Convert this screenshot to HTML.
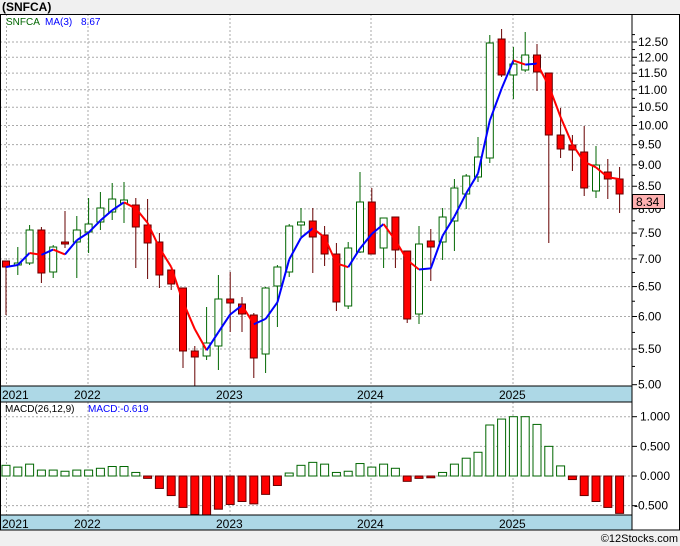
<!DOCTYPE html>
<html><head><meta charset="utf-8"><style>
html,body{margin:0;padding:0;background:#f0f0f0;}
svg{display:block;font-family:"Liberation Sans",sans-serif;}
</style></head><body>
<svg id="c" width="680" height="546" xmlns="http://www.w3.org/2000/svg">
<rect x="0" y="0" width="680" height="546" fill="#f0f0f0"/>
<text x="2" y="11" font-size="12" font-weight="bold" fill="#000">(SNFCA)</text>
<rect x="0" y="14" width="679" height="516" fill="#fff"/>
<g id="g"></g>
</svg>
<script>
var g=document.getElementById('g'),s='';
function yP(v){return 42+374*Math.log(12.5/v);}
function xi(i){return 6+11.8*i;}
// grid price
var lv=[12.5,12,11.5,11,10.5,10,9.5,9,8.5,8,7.5,7,6.5,6,5.5,5];
lv.forEach(function(v){var y=yP(v);
 if(v>5) s+='<line x1="0" x2="632" y1="'+y+'" y2="'+y+'" stroke="#aaa" stroke-dasharray="2,2"/>';
 s+='<line x1="632" x2="637" y1="'+y+'" y2="'+y+'" stroke="#000"/>';
 s+='<text x="638" y="'+(y+4)+'" font-size="12" fill="#000">'+v.toFixed(2)+'</text>';});
for(var v=5.25;v<12.8;v+=0.5){var y=yP(v);s+='<line x1="632" x2="635" y1="'+y+'" y2="'+y+'" stroke="#000"/>';}
var yrs=[[6.5,'2021'],[88,'2022'],[230,'2023'],[371,'2024'],[513,'2025']];
yrs.forEach(function(a){s+='<line x1="'+a[0]+'" x2="'+a[0]+'" y1="14" y2="386" stroke="#aaa" stroke-dasharray="2,2"/>';
 s+='<line x1="'+a[0]+'" x2="'+a[0]+'" y1="402" y2="515" stroke="#aaa" stroke-dasharray="2,2"/>';});
// macd grid
[[1,'1.000'],[0.5,'0.500'],[0,'0.000'],[-0.5,'-0.500']].forEach(function(a){var y=476-59.3*a[0];
 s+='<line x1="0" x2="632" y1="'+y+'" y2="'+y+'" stroke="#aaa" stroke-dasharray="2,2"/>';
 s+='<line x1="632" x2="637" y1="'+y+'" y2="'+y+'" stroke="#000"/>';
 s+='<text x="'+(a[0]<0?634:640)+'" y="'+(y+4)+'" font-size="12" fill="#000">'+a[1]+'</text>';});
// candles: color, bodyTop, bodyBot, wickTop, wickBot
var C=[['r',261,267,261,315],['g',263,265,247,275],['g',230,263,225,265],['r',230,273,227,283],['g',247,272,245,278],['r',242,244,211,248],['g',230,242,216,278],['g',224,232,198,253],['g',208,222,192,230],['g',199,212,183,220],['g',200,203,182,223],['r',205,227,198,268],['r',225,243,199,279],['r',242,275,233,288],['r',270,284,270,290],['r',288,351,288,368],['r',351,357,346,387],['g',343,356,307,360],['g',299,346,275,370],['r',299,303,272,332],['r',304,314,297,332],['r',315,358,313,378],['g',288,354,287,373],['g',267,286,265,327],['g',226,272,224,277],['g',222,225,208,237],['r',221,237,208,273],['r',235,254,226,266],['r',254,302,243,311],['g',248,306,242,309],['g',202,252,172,253],['r',202,254,188,254],['g',218,248,218,268],['r',217,250,217,268],['r',251,319,251,323],['g',244,314,226,324],['r',241,247,229,281],['g',217,242,208,260],['g',188,221,179,251],['g',176,194,174,209],['g',157,177,137,182],['g',43,158,35,163],['r',39,75,29,77],['g',64,75,47,99],['g',55,70,32,72],['r',55,72,44,91],['r',73,135,73,243],['r',135,149,108,158],['r',145,150,135,171],['r',152,188,126,196],['g',165,191,146,198],['r',172,179,159,199],['r',179,194,167,213]];
function pv(y){return 12.5*Math.exp(-(y-42)/374);}
var cl=C.map(function(c){return pv(c[0]=='g'?c[1]:c[2]);});
C.forEach(function(c,i){var x=xi(i);var wc=c[0]=='g'?'#060':'#600';
 s+='<line x1="'+x+'" x2="'+x+'" y1="'+c[3]+'" y2="'+c[4]+'" stroke="'+wc+'" stroke-width="1"/>';
 var h=Math.max(c[2]-c[1],2);
 if(c[0]=='g') s+='<rect x="'+(x-3.5)+'" y="'+c[1]+'" width="7" height="'+h+'" fill="#fff" stroke="#060"/>';
 else s+='<rect x="'+(x-3.5)+'" y="'+c[1]+'" width="7" height="'+h+'" fill="#f00" stroke="#600"/>';});
// MA
var ma=[];for(var i=0;i<cl.length;i++){var a=Math.max(0,i-2),t=0;for(var j=a;j<=i;j++)t+=cl[j];ma.push(t/(i-a+1));}
for(var i=1;i<ma.length;i++){var col=ma[i]>=ma[i-1]?'#00f':'#f00';
 s+='<line x1="'+xi(i-1)+'" y1="'+yP(ma[i-1])+'" x2="'+xi(i)+'" y2="'+yP(ma[i])+'" stroke="'+col+'" stroke-width="2"/>';}
// MACD
var M=[0.18,0.15,0.20,0.10,0.10,0.08,0.10,0.10,0.13,0.16,0.16,0.06,-0.04,-0.21,-0.33,-0.53,-0.65,-0.66,-0.56,-0.48,-0.43,-0.47,-0.31,-0.16,0.05,0.18,0.23,0.20,0.06,0.08,0.21,0.15,0.20,0.13,-0.09,-0.04,-0.03,0.06,0.20,0.30,0.40,0.86,0.96,1.00,1.00,0.87,0.50,0.17,-0.06,-0.33,-0.43,-0.53,-0.63];
M.forEach(function(v,i){var x=xi(i)-4,y0=476,y1=476-59.3*v;
 if(v>=0) s+='<rect x="'+x+'" y="'+y1+'" width="8" height="'+(y0-y1)+'" fill="#fff" stroke="#060"/>';
 else s+='<rect x="'+x+'" y="'+y0+'" width="8" height="'+(y1-y0)+'" fill="#f00" stroke="#600"/>';});
// bands
s+='<rect x="0" y="386" width="632" height="16" fill="#add8e6"/><rect x="0" y="515" width="632" height="15" fill="#add8e6"/>';
yrs.forEach(function(a){var tx=a[0]<10?2:a[0]-14;
 s+='<text x="'+tx+'" y="399" font-size="12" fill="#000">'+a[1]+'</text><text x="'+tx+'" y="528" font-size="12" fill="#000">'+a[1]+'</text>';});
// borders
s+='<line x1="0" x2="680" y1="14.5" y2="14.5" stroke="#000"/>';
s+='<line x1="0" x2="632" y1="386" y2="386" stroke="#000"/><line x1="0" x2="632" y1="402" y2="402" stroke="#000"/>';
s+='<line x1="0" x2="632" y1="515" y2="515" stroke="#000"/><line x1="0" x2="680" y1="530" y2="530" stroke="#000"/>';
s+='<line x1="632" x2="632" y1="14" y2="530" stroke="#000"/><line x1="0.5" x2="0.5" y1="14" y2="530" stroke="#000"/><line x1="679.5" x2="679.5" y1="14" y2="530" stroke="#000"/>';
// legends
s+='<text x="6" y="25" font-size="10" fill="#060">SNFCA</text><text x="45" y="25" font-size="10" fill="#00f">MA(3)</text><text x="81" y="25" font-size="10" fill="#00f">8.67</text>';
s+='<text x="5" y="412" font-size="10" fill="#000">MACD(26,12,9)</text><text x="88" y="412" font-size="10" fill="#00f">MACD:-0.619</text>';
s+='<rect x="632.5" y="194.5" width="32" height="14" fill="#ffb0b0" stroke="#000"/><text x="636" y="206" font-size="12" fill="#000">8.34</text>';
s+='<text x="678" y="542" font-size="11" fill="#000" text-anchor="end">©12Stocks.com</text>';
g.innerHTML=s;
</script>
</body></html>
